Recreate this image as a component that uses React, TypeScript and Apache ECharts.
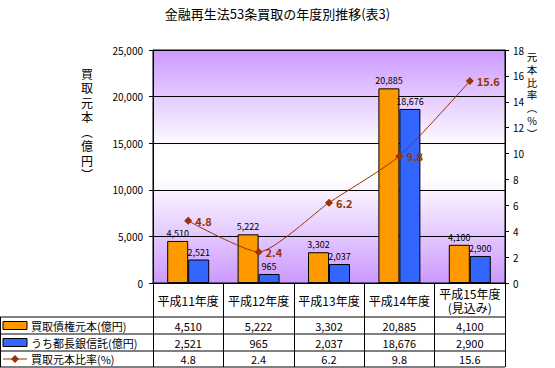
import React, { useEffect, useRef } from "react";
import * as echarts from "echarts";

const categories = ["平成11年度", "平成12年度", "平成13年度", "平成14年度", "平成15年度\n(見込み)"];
const purchased = [4510, 5222, 3302, 20885, 4100];
const majorBanks = [2521, 965, 2037, 18676, 2900];
const ratio = [4.8, 2.4, 6.2, 9.8, 15.6];
const seriesNames = ["買取債権元本(億円)", "うち都長銀信託(億円)", "買取元本比率(%)"];
const titleText = "金融再生法53条買取の年度別推移(表3)";
const leftAxisName = ["買", "取", "元", "本", "︵", "億", "円", "︶"];
const rightAxisName = ["元", "本", "比", "率", "︵", "%", "︶"];

const FONT = "'Noto Sans CJK JP', 'Noto Sans', sans-serif";
const W = 555;
const H = 368;
const GL = 153;
const GR = 505;
const GT = 50;
const GB = 283;
const ROWS = [317, 334, 351, 367];
const ORANGE = "#FF9900";
const BLUE = "#3366FF";
const RED = "#993300";

function fmt(n: number) {
  return n.toLocaleString("en-US");
}

export default function App() {
  const ref = useRef<HTMLDivElement>(null);
  useEffect(() => {
    if (!ref.current) return;
    const chart = echarts.init(ref.current, undefined, { renderer: "svg" });
    const colW = (GR - GL) / categories.length;
    const graphics: any[] = [];
    ROWS.forEach((y) => {
      graphics.push({
        type: "line",
        shape: { x1: 0, y1: y, x2: GR, y2: y },
        style: { stroke: "#000", lineWidth: 1 },
        silent: true,
      });
    });
    graphics.push({
      type: "line",
      shape: { x1: 0.5, y1: ROWS[0], x2: 0.5, y2: ROWS[3] },
      style: { stroke: "#000", lineWidth: 1 },
    });
    const rowData = [purchased.map(fmt), majorBanks.map(fmt), ratio.map((v) => v.toFixed(1))];
    rowData.forEach((vals, r) => {
      const cy = (ROWS[r] + ROWS[r + 1]) / 2;
      graphics.push({
        type: "text",
        x: 31,
        y: cy,
        style: { text: seriesNames[r], font: `11px ${FONT}`, fill: "#000", verticalAlign: "middle", align: "left" },
      });
      vals.forEach((v, i) => {
        graphics.push({
          type: "text",
          x: GL + colW * (i + 0.5),
          y: cy,
          style: { text: v, font: `11px ${FONT}`, fill: "#000", verticalAlign: "middle", align: "center" },
        });
      });
    });
    const k1 = (ROWS[0] + ROWS[1]) / 2;
    const k2 = (ROWS[1] + ROWS[2]) / 2;
    const k3 = (ROWS[2] + ROWS[3]) / 2;
    graphics.push({ type: "rect", shape: { x: 3, y: k1 - 4, width: 24, height: 8 }, style: { fill: ORANGE, stroke: "#000", lineWidth: 1 } });
    graphics.push({ type: "rect", shape: { x: 3, y: k2 - 4, width: 24, height: 8 }, style: { fill: BLUE, stroke: "#000", lineWidth: 1 } });
    graphics.push({ type: "line", shape: { x1: 3, y1: k3, x2: 27, y2: k3 }, style: { stroke: RED, lineWidth: 1 } });
    graphics.push({
      type: "polygon",
      shape: { points: [[15, k3 - 4], [19, k3], [15, k3 + 4], [11, k3]] },
      style: { fill: RED },
    });
    graphics.push({
      type: "text",
      x: 87,
      y: 66,
      style: {
        text: leftAxisName.join("\n"),
        font: `12px ${FONT}`,
        lineHeight: 14.5,
        fill: "#000",
        align: "center",
        verticalAlign: "top",
      },
    });
    graphics.push({
      type: "text",
      x: 532,
      y: 50,
      style: {
        text: rightAxisName.join("\n"),
        font: `10.5px ${FONT}`,
        lineHeight: 12.8,
        fill: "#000",
        align: "center",
        verticalAlign: "top",
      },
    });

    chart.setOption({
      animation: false,
      backgroundColor: "#fff",
      textStyle: { fontFamily: FONT },
      title: {
        text: titleText,
        left: "center",
        top: 2,
        textStyle: { fontSize: 13, fontWeight: "normal", color: "#000", fontFamily: FONT },
      },
      grid: {
        left: GL,
        right: W - GR,
        top: GT,
        bottom: H - GB,
        show: true,
        borderColor: "#000",
        borderWidth: 1,
        backgroundColor: new echarts.graphic.LinearGradient(0, 0, 0, 1, [
          { offset: 0, color: "#CC99FF" },
          { offset: 0.42, color: "#FFFFFF" },
          { offset: 0.55, color: "#FFFFFF" },
          { offset: 1, color: "#CC99FF" },
        ]),
      },
      xAxis: {
        type: "category",
        data: categories,
        axisLine: { show: true, lineStyle: { color: "#000", width: 1 } },
        axisTick: { show: true, length: ROWS[3] - GB, lineStyle: { color: "#000", width: 1 } },
        axisLabel: {
          color: "#000",
          fontSize: 12,
          fontFamily: FONT,
          margin: 17,
          verticalAlign: "middle",
          lineHeight: 14,
          interval: 0,
        },
      },
      yAxis: [
        {
          type: "value",
          min: 0,
          max: 25000,
          interval: 5000,
          axisLine: { show: true, lineStyle: { color: "#000" } },
          axisTick: { show: true, length: 4, lineStyle: { color: "#000" } },
          splitLine: { show: true, lineStyle: { color: "#000", width: 1 } },
          axisLabel: { color: "#000", fontSize: 10, fontFamily: FONT, margin: 10 },
        },
        {
          type: "value",
          min: 0,
          max: 18,
          interval: 2,
          position: "right",
          axisLine: { show: true, lineStyle: { color: "#000" } },
          axisTick: { show: true, length: 4, lineStyle: { color: "#000" } },
          splitLine: { show: false },
          axisLabel: { color: "#000", fontSize: 10, fontFamily: FONT, margin: 8 },
        },
      ],
      series: [
        {
          name: seriesNames[0],
          type: "bar",
          data: purchased,
          barWidth: 21,
          barGap: "0%",
          itemStyle: { color: ORANGE, borderColor: "#000", borderWidth: 1 },
          label: { show: true, position: "top", distance: 3, fontSize: 9, color: "#000", fontFamily: FONT, formatter: (p: any) => fmt(p.value) },
        },
        {
          name: seriesNames[1],
          type: "bar",
          data: majorBanks,
          barWidth: 21,
          barGap: "0%",
          itemStyle: { color: BLUE, borderColor: "#000", borderWidth: 1 },
          label: { show: true, position: "top", distance: 3, fontSize: 9, color: "#000", fontFamily: FONT, formatter: (p: any) => fmt(p.value) },
        },
        {
          name: seriesNames[2],
          type: "line",
          yAxisIndex: 1,
          data: ratio,
          smooth: 0.2,
          symbol: "diamond",
          symbolSize: 8,
          z: 5,
          itemStyle: { color: RED },
          lineStyle: { color: RED, width: 1 },
          label: {
            show: true,
            position: "right",
            distance: 3,
            fontSize: 11,
            fontWeight: "bold",
            color: RED,
            fontFamily: FONT,
            formatter: (p: any) => p.value.toFixed(1),
          },
        },
      ],
      graphic: graphics,
    });
    return () => chart.dispose();
  }, []);
  return <div ref={ref} style={{ position: "fixed", left: 0, top: 0, width: W, height: H }} />;
}
